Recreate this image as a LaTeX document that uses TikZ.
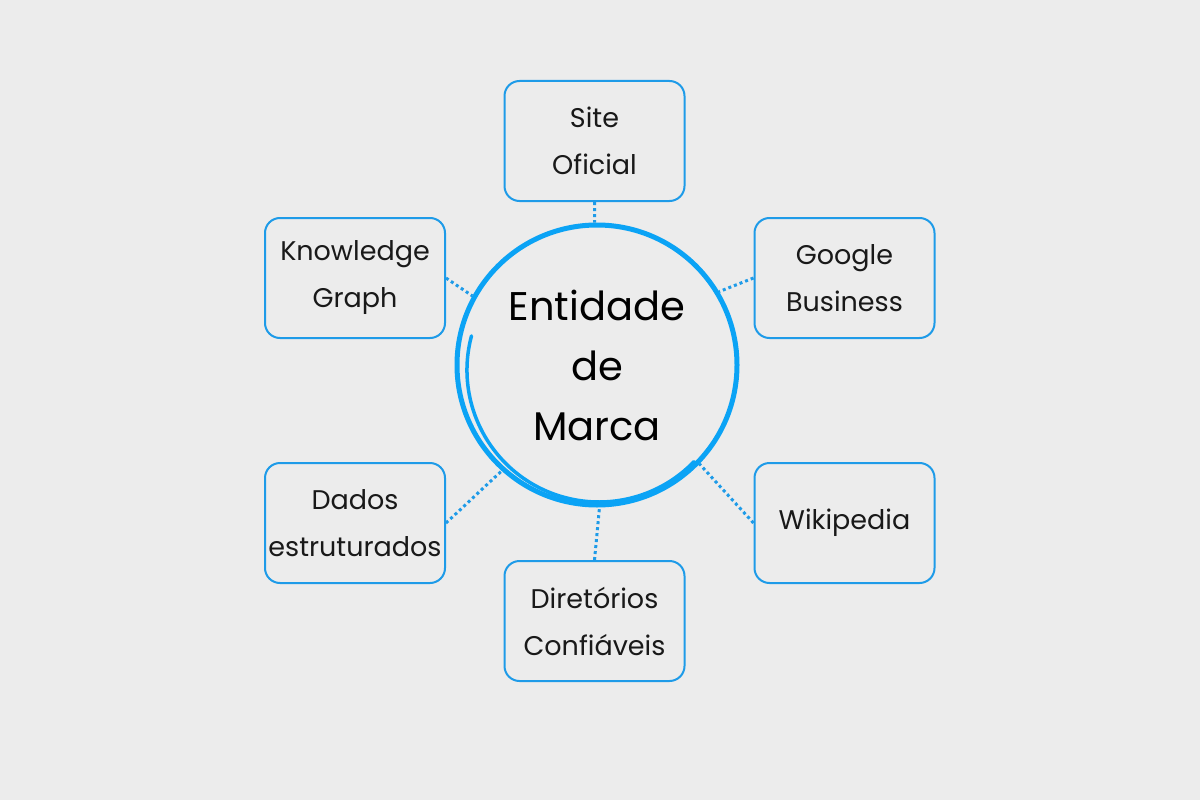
\documentclass[tikz,border=0pt]{standalone}
\usepackage{fontspec}
\setmainfont{Poppins}
\definecolor{bg}{HTML}{ECECEC}
\definecolor{boxblue}{HTML}{1E9BE8}
\definecolor{ringblue}{HTML}{0BA3F5}
\begin{document}
\begin{tikzpicture}[x=1pt,y=-1pt,
  boxnode/.style={draw=boxblue,line width=2pt,rounded corners=15pt,minimum width=180pt,minimum height=120pt,align=center,font=\fontsize{27}{47}\selectfont,text=black!90},
  link/.style={draw=boxblue,line width=3pt,dash pattern=on 3pt off 3pt}]
\fill[bg] (0,0) rectangle (1200,800);
\useasboundingbox (0,0) rectangle (1200,800);
\node[circle,draw=ringblue,line width=5pt,minimum size=280pt,inner sep=0pt,align=center,font=\fontsize{40}{60}\selectfont,text=black] (c) at (597,365) {Entidade\\de\\Marca};
\draw[ringblue,line width=3.5pt,line cap=round] ([shift={(2,5)}]c.center) ++(-165:132) arc[start angle=-165,end angle=-316,radius=132];
\node[boxnode] (so) at (594.5,141) {Site\\Oficial};
\node[boxnode] (kg) at (355,278) {Knowledge\\Graph};
\node[boxnode] (gb) at (844.5,278) {Google\\Business};
\node[boxnode] (de) at (355,523) {Dados\\estruturados};
\node[boxnode] (wk) at (844.5,523) {Wikipedia};
\node[boxnode] (dc) at (594.5,621) {Diretórios\\Confiáveis};
\draw[link] (so.south) -- (c.91);
\draw[link] (kg.east) -- (c.151);
\draw[link] (gb.west) -- (c.31);
\draw[link] (de.east) -- (c.228);
\draw[link] (wk.west) -- (c.316);
\draw[link] (dc.north) -- (c.271);
\end{tikzpicture}
\end{document}
